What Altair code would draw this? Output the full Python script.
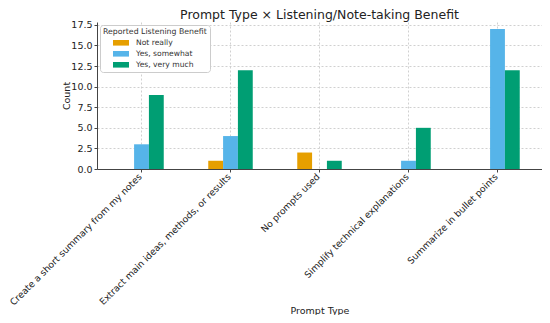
import altair as alt
import pandas as pd

categories = [
    "Create a short summary from my notes",
    "Extract main ideas, methods, or results",
    "No prompts used",
    "Simplify technical explanations",
    "Summarize in bullet points",
]
series = ["Not really", "Yes, somewhat", "Yes, very much"]
not_really = [0, 1, 2, 0, 0]
yes_somewhat = [3, 4, 0, 1, 17]
yes_very_much = [9, 12, 1, 5, 12]
colors = ["#E69F00", "#56B4E9", "#009E73"]

rows = []
for i, c in enumerate(categories):
    for s, vals in zip(series, [not_really, yes_somewhat, yes_very_much]):
        rows.append({"Prompt Type": c, "Benefit": s, "Count": vals[i]})
df = pd.DataFrame(rows)

font = "DejaVu Sans"
rect_path = "M-2,-0.7L2,-0.7L2,0.7L-2,0.7Z"

chart = alt.Chart(df).mark_bar(stroke=None).encode(
    x=alt.X(
        "Prompt Type:N",
        sort=categories,
        scale=alt.Scale(paddingInner=0.5, paddingOuter=0.25),
        axis=alt.Axis(
            title="Prompt Type",
            labelAngle=-45,
            labelAlign="right",
            labelBaseline="top",
            labelFontSize=9.2,
            labelColor="#222222",
            labelLimit=400,
            labelPadding=0,
            labelOffset=-4,
            titleFontSize=9.5,
            titleFontWeight="normal",
            titleColor="#222222",
            titleY=141,
            titleBaseline="middle",
            bandPosition=0.5,
            grid=True,
            gridDash=[2, 2],
            gridColor="#d0d0d0",
            domainColor="#444444",
            tickColor="#444444",
            tickSize=3,
        ),
    ),
    xOffset=alt.XOffset("Benefit:N", sort=series, scale=alt.Scale(paddingInner=0, paddingOuter=0)),
    y=alt.Y(
        "Count:Q",
        scale=alt.Scale(domain=[0, 17.85], nice=False),
        axis=alt.Axis(
            title="Count",
            values=[0, 2.5, 5, 7.5, 10, 12.5, 15, 17.5],
            format=".1f",
            labelFontSize=9.5,
            labelColor="#222222",
            titleFontSize=9.5,
            titleFontWeight="normal",
            titleColor="#222222",
            titleX=-31,
            titleBaseline="middle",
            gridDash=[2, 2],
            gridColor="#d0d0d0",
            domainColor="#444444",
            tickColor="#444444",
            tickSize=3,
        ),
    ),
    color=alt.Color(
        "Benefit:N",
        sort=series,
        scale=alt.Scale(domain=series, range=colors),
        legend=alt.Legend(
            title="Reported Listening Benefit",
            orient="top-left",
            offset=3,
            fillColor="white",
            strokeColor="#cccccc",
            padding=3,
            cornerRadius=3,
            titleFontSize=7.8,
            titleFontWeight="normal",
            titleColor="#333333",
            titlePadding=3,
            labelFontSize=7.6,
            labelColor="#333333",
            labelOffset=11,
            symbolType=rect_path,
            symbolSize=64,
            symbolOffset=14,
            symbolStrokeWidth=0,
            rowPadding=3,
        ),
    ),
).properties(
    width=445,
    height=147,
    autosize=alt.AutoSizeParams(type="none"),
    padding={"left": 89, "top": 14, "right": 0, "bottom": 146},
    title=alt.TitleParams(
        "Prompt Type × Listening/Note-taking Benefit",
        fontSize=12.5,
        fontWeight="normal",
        color="#222222",
        font=font,
        offset=1,
        dy=3,
    ),
).configure(font=font).configure_view(stroke=None)

chart.save("out.html", embed_options={"renderer": "svg", "actions": False})
